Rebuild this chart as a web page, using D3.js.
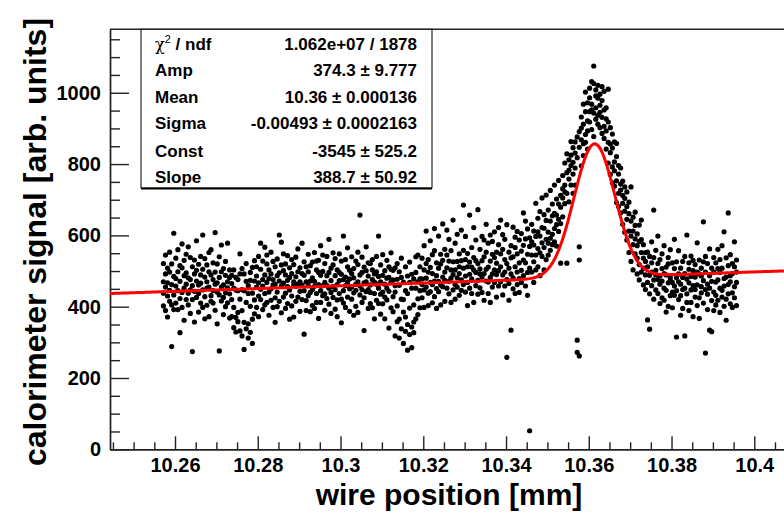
<!DOCTYPE html>
<html><head><meta charset="utf-8">
<script src="https://cdn.jsdelivr.net/npm/d3@7"></script>
<style>
body{margin:0;background:#fff}
svg text{font-family:"Liberation Sans",Arial,Helvetica,sans-serif;font-weight:bold;fill:#000}
</style>
</head><body><svg id="c" width="784" height="515"></svg>
<script>
// wire position = X_ORIGIN + column * X_UNIT (mm); each row: [column, signal values...]
const X_ORIGIN = 10.25, X_UNIT = 0.0001;
const scanRows = [
[72,470,402,521,438],[77,545,455,389,492],[82,430,508,467,371],[87,497,415,553,446],[92,288,462,520,405],
[97,606,433,485,392],[102,458,536,410,479],[107,392,498,445,560],[112,327,471,423,515],[117,509,440,576,398],
[122,452,362,487,530],[127,420,495,547,463],[132,481,405,438,568],[137,538,447,381,476],[142,274,459,512,420],
[147,443,492,357,531],[152,502,426,472,585],[157,385,461,519,437],[162,466,541,410,489],[167,601,447,398,505],
[172,428,483,535,366],[177,517,452,404,470],[182,455,372,498,552],[187,489,431,560,415],[192,410,476,523,445],
[197,608,463,390,497],[202,441,520,467,352],[207,276,482,433,540],[212,498,416,455,573],[217,378,461,507,426],
[222,527,439,488,400],[227,578,470,411,453],[232,436,503,368,482],
[237,420,465,488,372],[242,398,452,341,503],[247,370,447,482,329],[252,445,384,476,358],[257,332,421,492,548],
[262,389,318,448,507],[267,280,356,445,492],[272,412,338,471,521],[277,352,437,312,459],[282,401,328,474,496],
[287,297,365,438,510],[292,419,380,472,529],
[297,455,512,398,486],[302,430,541,467,372],[307,578,449,505,420],[312,392,476,528,458],[317,567,437,489,405],
[322,468,520,412,545],[327,503,441,376,479],[332,418,492,553,450],[337,476,398,461,527],[342,512,463,425,356],
[347,441,534,487,400],[352,601,472,415,495],[357,581,458,383,517],[362,427,501,466,548],[367,489,395,520,438],
[372,456,543,409,474],[377,365,482,447,509],[382,532,430,493,402],[387,470,518,371,461],[392,415,457,539,484],
[397,498,427,463,562],[402,443,509,387,470],[407,578,461,420,493],[412,323,488,445,526],[417,512,417,470,389],
[422,459,547,431,498],[427,386,472,515,440],[432,525,448,403,481],[437,471,395,457,552],[442,437,503,528,412],
[447,496,462,367,530],[452,412,488,445,571],[457,545,431,499,459],[462,468,390,521,436],[467,423,487,459,541],
[472,589,452,407,496],
[477,440,508,381,473],[482,517,456,426,551],[487,393,487,535,448],[492,462,419,503,372],[497,548,473,437,496],
[502,421,491,355,528],[507,598,445,476,410],[512,483,532,398,459],[517,427,468,512,565],[522,502,387,450,478],
[527,455,540,421,493],[532,376,481,507,439],[537,528,446,463,401],[542,470,518,384,553],[547,657,433,489,458],
[552,412,496,539,448],[557,333,467,425,511],[562,501,442,568,470],[567,448,523,395,486],[572,521,409,461,440],
[577,397,476,532,503],[582,469,437,492,366],[587,541,498,418,463],[592,598,452,485,409],[597,435,517,379,470],
[602,488,408,546,441],[607,366,463,501,427],[612,452,530,419,480],[617,340,482,443,512],[622,505,397,468,551],
[627,428,475,386,502],[632,318,441,509,459],
[637,402,358,477,521],[642,365,460,312,498],[647,421,338,482,536],[652,297,385,469,420],[657,371,445,331,512],
[662,278,350,437,486],[667,396,322,468,525],[672,343,452,285,491],[677,405,357,478,327],[682,366,452,496,540],
[687,422,378,470,545],[692,445,397,512,478],
[697,478,536,425,462],[702,503,447,571,398],[707,455,521,480,612],[712,532,438,497,403],[717,468,585,442,510],
[722,411,493,546,462],[727,557,472,428,619],[732,487,523,451,395],[737,442,508,598,471],[742,520,461,405,547],
[747,483,632,456,530],[752,415,497,561,474],[757,545,452,509,615],[762,471,528,436,589],[767,503,412,557,480],
[772,643,490,447,526],[777,462,578,503,421],[782,527,455,481,603],[787,493,548,432,512],[792,615,475,529,446],
[797,685,508,462,558],[802,441,532,597,486],[807,512,468,549,403],[812,657,491,525,452],[817,478,566,437,511],
[822,538,412,503,622],[827,496,587,459,529],[832,672,521,474,435],[837,453,506,561,492],[842,529,440,597,483],
[847,587,493,418,540],[852,472,553,505,631],[857,511,437,578,469],[862,601,528,482,412],[867,455,492,547,583],
[872,538,610,468,503],[877,490,427,553,522],[882,622,501,458,574],
[887,643,512,470,548],[892,489,561,433,602],[897,532,458,589,497],[902,258,521,476,630],[907,553,418,508,465],
[912,334,571,492,537],[917,481,623,540,450],[922,566,437,512,595],[927,497,548,462,611],[932,523,587,440,479],
[937,605,502,556,468],[942,663,531,487,572],[947,458,590,523,640],[952,547,496,618,432],[957,52,569,508,593],
[962,582,497,631,545],[967,526,612,468,573],[972,690,545,597,503],[977,563,648,512,610],[982,598,487,667,551],
[987,541,622,579,705],[992,620,566,503,658],[997,713,589,642,532],[1002,578,671,609,545],[1007,640,592,726,558],
[1012,603,688,574,655],[1017,662,619,741,582],[1022,630,702,657,570],[1027,688,611,754,645],[1032,522,679,712,633],
[1037,705,768,652,731],[1042,741,689,803,722],[1047,522,776,718,829],[1052,758,812,694,783],[1057,825,741,796,863],
[1062,772,846,718,805],[1067,789,862,741,831],[1072,306,272,876,818],[1077,262,568,891,847,531],
[1082,868,932,795,901],[1087,912,857,968,824],[1092,947,883,1002,861],[1097,893,972,921,842],[1102,986,918,1013,947],
[1107,952,1031,897,968],[1112,1075,1026,943,877],[1117,991,958,1008,926],[1122,937,985,912,1021],[1127,965,902,996,945],
[1132,1017,931,978,886],[1137,952,906,1004,872],[1142,893,958,842,927],
[1147,1010,861,803,918],[1152,832,902,771,856],[1157,884,792,845,747],[1162,806,862,738,781],[1167,753,821,692,858],
[1172,796,718,772,681],[1177,727,789,663,744],[1182,690,752,631,712],[1187,736,668,609,704],
[1192,722,645,587,681],[1197,612,693,552,661],[1202,736,598,640,527],[1207,574,651,612,503],[1212,628,548,590,665],
[1217,536,604,492,571],[1222,583,518,629,475],[1227,643,552,497,588],[1232,508,574,461,536],[1237,552,489,527,448],
[1242,363,512,468,553],[1247,337,488,541,436],[1252,523,459,497,582],[1257,671,475,538,421],[1262,502,558,447,489],
[1267,437,521,476,598],[1272,486,409,532,463],[1277,548,472,425,507],[1282,418,493,571,452],[1287,511,446,489,385],
[1292,467,538,401,520],[1297,431,482,560,474],[1302,523,397,468,441],[1307,458,507,432,589],[1312,315,481,526,445],
[1317,492,420,557,470],[1322,376,463,508,431],[1327,527,448,395,482],[1332,318,493,452,541],[1337,601,436,478,412],
[1342,467,523,389,505],[1347,412,485,542,447],[1352,501,372,459,530],[1357,448,518,427,483],[1362,579,461,403,497],
[1367,425,492,531,367],[1372,486,439,508,456],[1377,638,410,473,526],[1382,270,497,448,541],[1387,463,392,521,435],
[1392,334,487,452,562],[1397,330,508,417,471],[1402,497,441,538,389],[1407,432,523,469,405],[1412,561,475,418,507],
[1417,452,384,496,532],[1422,508,446,571,427],[1427,610,479,401,458],[1432,421,537,483,362],[1437,663,462,515,436],
[1442,487,408,546,470],[1447,439,521,398,493],[1452,512,456,582,425],[1457,468,403,497,531]
];

const xMajorTicks = [10.26,10.28,10.3,10.32,10.34,10.36,10.38,10.4];
const xTickLabels = ["10.26","10.28","10.3","10.32","10.34","10.36","10.38","10.4"];
const xMinorTicks = [10.245,10.25,10.255,10.265,10.27,10.275,10.285,10.29,10.295,10.305,10.31,10.315,10.325,10.33,10.335,10.345,10.35,10.355,10.365,10.37,10.375,10.385,10.39,10.395,10.405];
const yMajorTicks = [0,200,400,600,800,1000];
const yTickLabels = ["0","200","400","600","800","1000"];
const yMinorTicks = [50,100,150,250,300,350,450,500,550,650,700,750,850,900,950,1050,1100,1150];

// fit result (gaus + pol1)
const fitAmp = 374.3, fitMean = 10.3614, fitSigma = -0.00493, fitConst = -3545, fitSlope = 388.7;

const statLabels = ["ndf", "Amp", "Mean", "Sigma", "Const", "Slope"];
const statValues = ["1.062e+07 / 1878", "374.3 \u00b1 9.777", "10.36 \u00b1 0.000136", "-0.00493 \u00b1 0.0002163", "-3545 \u00b1 525.2", "388.7 \u00b1 50.92"];
const statBaselines = [50, 75.5, 103, 128.5, 157, 183];

const xTitle = "wire position [mm]";
const yTitle = "calorimeter signal [arb. units]";

const svg = d3.select("#c");
const L = 110, R = 784, T = 29.3, B = 449.3;
const x = d3.scaleLinear().domain([10.24429, 10.40718]).range([L, R]);
const y = d3.scaleLinear().domain([0, 1178]).range([B, T]);

svg.append("defs").append("clipPath").attr("id","clip")
  .append("rect").attr("x",L).attr("y",T).attr("width",R-L).attr("height",B-T);

const axisCol = "#222";
svg.append("line").attr("x1",L).attr("x2",R).attr("y1",T).attr("y2",T)
  .attr("stroke",axisCol).attr("stroke-width",1.6);

const gx = svg.append("g").attr("transform",`translate(0,${B})`);
gx.call(d3.axisBottom(x).tickValues(xMajorTicks).tickFormat((d,i)=>xTickLabels[i]).tickSize(-13).tickSizeOuter(0).tickPadding(8.5));
gx.append("g").call(d3.axisBottom(x).tickValues(xMinorTicks).tickFormat("").tickSize(-7).tickSizeOuter(0));
gx.selectAll("text").attr("font-size",20).style("font-family","'Liberation Sans',Arial,sans-serif").style("font-weight","bold");
gx.selectAll("path,line").attr("stroke",axisCol).attr("stroke-width",1.4);

const gy = svg.append("g").attr("transform",`translate(${L},0)`);
gy.call(d3.axisLeft(y).tickValues(yMajorTicks).tickFormat((d,i)=>yTickLabels[i]).tickSize(-19).tickSizeOuter(0).tickPadding(9));
gy.append("g").call(d3.axisLeft(y).tickValues(yMinorTicks).tickFormat("").tickSize(-10).tickSizeOuter(0));
gy.selectAll("text").attr("font-size",20).style("font-family","'Liberation Sans',Arial,sans-serif").style("font-weight","bold");
gy.selectAll("path,line").attr("stroke",axisCol).attr("stroke-width",1.4);

const points = scanRows.flatMap(r => r.slice(1).map(v => ({wx: X_ORIGIN + r[0]*X_UNIT, s: v})));
svg.append("g").attr("clip-path","url(#clip)")
  .selectAll("circle").data(points).join("circle")
  .attr("cx", d => x(d.wx)).attr("cy", d => y(d.s)).attr("r", 2.6).attr("fill","#000");

const fitFn = t => fitConst + fitSlope*t + fitAmp*Math.exp(-0.5*Math.pow((t - fitMean)/fitSigma, 2));
const [d0, d1] = x.domain();
const curveX = d3.range(0, 401).map(i => d0 + (d1-d0)*i/400);
svg.append("path").attr("clip-path","url(#clip)")
  .datum(curveX)
  .attr("d", d3.line().x(t => x(t)).y(t => y(fitFn(t))))
  .attr("fill","none").attr("stroke","#ff0000").attr("stroke-width",3);

const sb = svg.append("g");
sb.append("rect").attr("x",141).attr("y",T).attr("width",291).attr("height",158.5)
  .attr("fill","#fff").attr("stroke","#000").attr("stroke-width",1);
sb.append("line").attr("x1",141).attr("x2",432).attr("y1",T+158.5+1).attr("y2",T+158.5+1)
  .attr("stroke","#000").attr("stroke-width",1.5);
statLabels.forEach((lab,i) => {
  const t = sb.append("text").attr("x",155).attr("y",statBaselines[i]).attr("font-size",17);
  if (i === 0) {
    t.append("tspan").text("\u03c7").style("font-weight","normal").style("font-family","'DejaVu Serif',serif").attr("font-size",16);
    t.append("tspan").text("2").attr("dy",-7).attr("font-size",11).style("font-weight","normal");
    t.append("tspan").text(" / " + lab).attr("dy",7);
  } else t.text(lab);
});
statValues.forEach((v,i) => {
  sb.append("text").attr("x",417).attr("y",statBaselines[i]).attr("font-size",17)
    .attr("text-anchor","end").text(v);
});

svg.append("text").attr("x",449).attr("y",505).attr("text-anchor","middle")
  .attr("font-size",30).text(xTitle);
svg.append("text").attr("transform","translate(46,242) rotate(-90)").attr("text-anchor","middle")
  .attr("font-size",32).text(yTitle);
</script>
</body></html>
